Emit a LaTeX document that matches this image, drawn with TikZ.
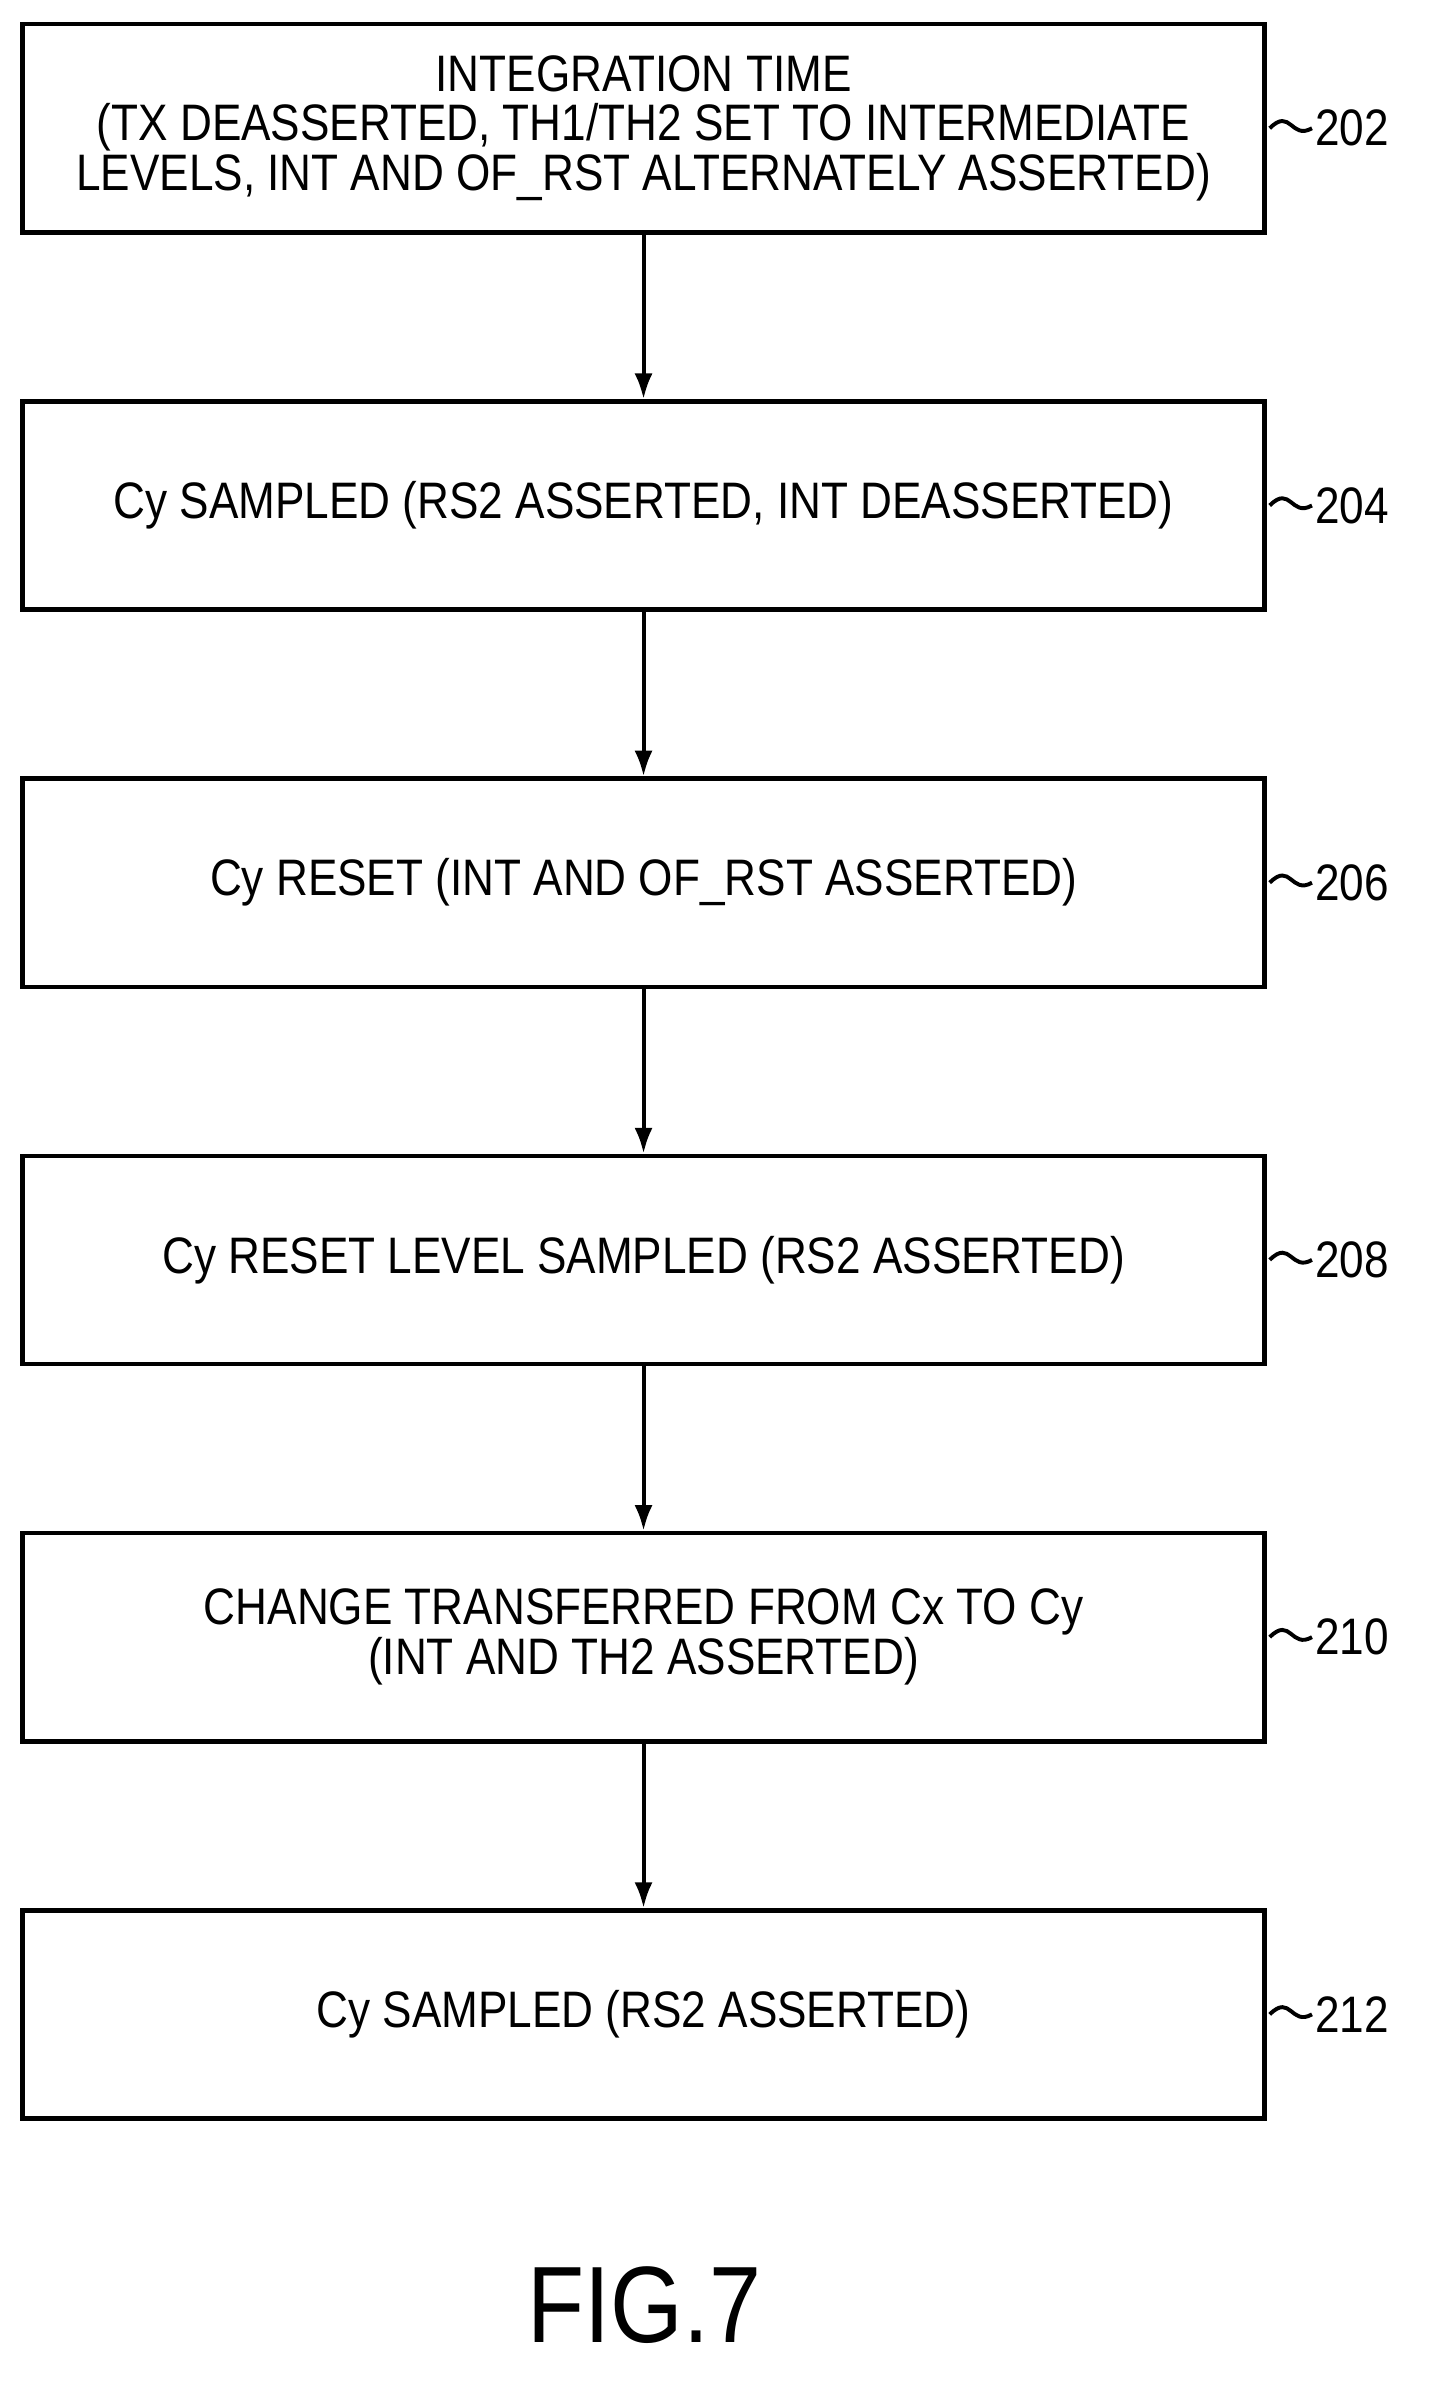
\documentclass[tikz,border=0pt]{standalone}
\usepackage{fontspec}
\setmainfont{Liberation Sans}[FakeStretch=0.86]
\usetikzlibrary{positioning,arrows.meta}
\begin{document}
\begin{tikzpicture}[x=1pt,y=-1pt,
  stepbox/.style={draw,line width=3pt,minimum width=823pt,minimum height=138pt,
    align=center,font=\fontsize{34}{33}\selectfont,inner sep=0pt},
  flow/.style={line width=2.6pt,-{Latex[length=17pt,width=12pt]}},
  tag/.style={font=\fontsize{34}{34}\selectfont,anchor=west,inner sep=0pt}]
\useasboundingbox (0,0) rectangle (960,1578);
% boxes
\node[stepbox] (s202) at (426.5,85) {INTEGRATION TIME\\(TX DEASSERTED, TH1/TH2 SET TO INTERMEDIATE\\LEVELS, INT AND OF\_RST ALTERNATELY ASSERTED)};
\node[stepbox,below=109pt of s202] (s204) {Cy SAMPLED (RS2 ASSERTED, INT DEASSERTED)};
\node[stepbox,below=109pt of s204] (s206) {Cy RESET (INT AND OF\_RST ASSERTED)};
\node[stepbox,below=109pt of s206] (s208) {Cy RESET LEVEL SAMPLED (RS2 ASSERTED)};
\node[stepbox,below=109pt of s208] (s210) {CHANGE TRANSFERRED FROM Cx TO Cy\\(INT AND TH2 ASSERTED)};
\node[stepbox,below=109pt of s210] (s212) {Cy SAMPLED (RS2 ASSERTED)};
% arrows and reference numerals
\foreach \a/\b in {s202/s204,s204/s206,s206/s208,s208/s210,s210/s212}
  \draw[flow] (\a) -- (\b);
\foreach \n in {202,204,206,208,210,212}{
  \node[tag,right=32pt of s\n.east] (t\n) {\n};
  \draw[line width=2.6pt] ([xshift=2pt]s\n.east) .. controls +(14,-14) and +(-14,8) .. ([xshift=-2pt]t\n.west);
}
\node[font=\fontsize{72}{74}\selectfont] (fig) at (427,1528) {FIG.7};
\end{tikzpicture}
\end{document}
